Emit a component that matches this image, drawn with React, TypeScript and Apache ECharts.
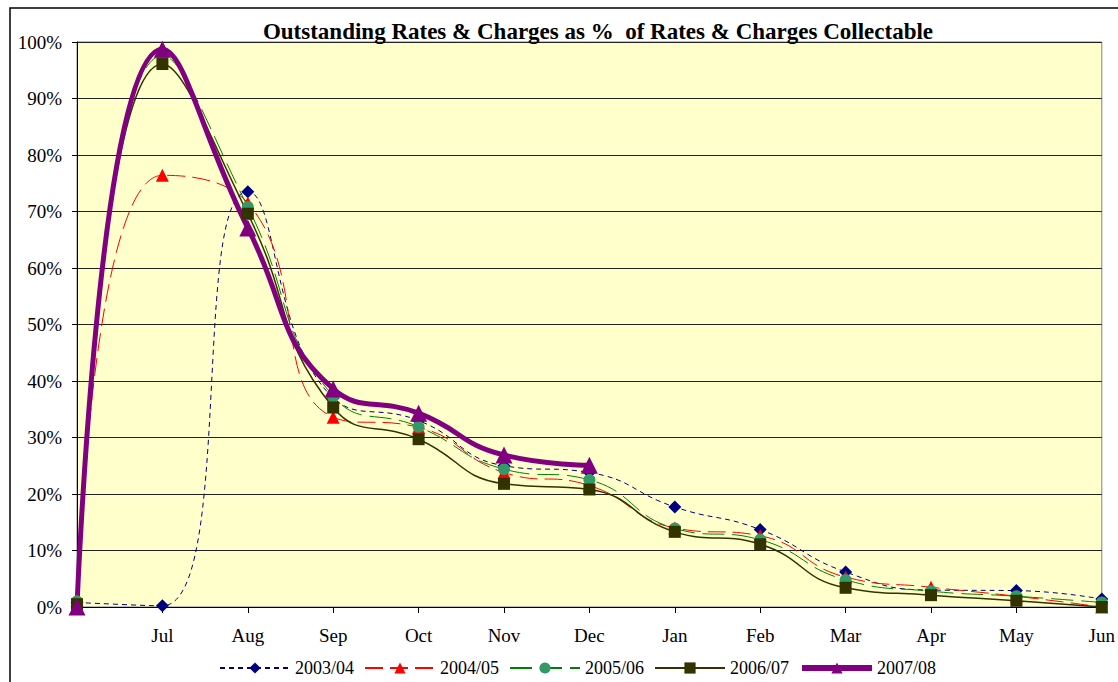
import React, { useEffect, useRef } from "react";
import * as echarts from "echarts";

const categories = ["", "Jul", "Aug", "Sep", "Oct", "Nov", "Dec", "Jan", "Feb", "Mar", "Apr", "May", "Jun"];
const yTicks = [0, 10, 20, 30, 40, 50, 60, 70, 80, 90, 100];
const title = "Outstanding Rates & Charges as %  of Rates & Charges Collectable";
const seriesNames = ["2003/04", "2004/05", "2005/06", "2006/07", "2007/08"];

const s0304 = [0.8, 0.2, 73.5, 37.0, 33.0, 25.0, 23.8, 17.7, 13.7, 6.2, 3.0, 2.9, 1.4];
const s0405 = [1.2, 76.4, 71.5, 33.6, 31.8, 23.8, 21.5, 14.0, 12.6, 5.3, 3.5, 1.9, 0.0];
const s0506 = [1.0, 97.6, 70.8, 37.3, 31.9, 24.4, 22.5, 13.9, 11.9, 4.8, 2.8, 1.9, 0.8];
const s0607 = [0.5, 96.1, 69.6, 35.3, 29.7, 21.8, 20.8, 13.3, 11.1, 3.4, 2.1, 1.1, 0.0];
const s0708 = [0.0, 98.7, 67.1, 38.6, 34.3, 26.9, 25.1, null, null, null, null, null, null];

const FONT = "'Liberation Serif', 'Times New Roman', serif";

export default function App() {
  const ref = useRef<HTMLDivElement>(null);
  useEffect(() => {
    document.body.style.margin = "0";
    const chart = echarts.init(ref.current!, null, { renderer: "svg" });
    const mk = (name: string, data: (number | null)[], color: string, lineColor: string, symbol: string, size: number, width: number, type: any) => ({
      name,
      type: "line",
      data,
      smooth: 0.5,
      clip: false,
      symbol,
      symbolSize: size,
      showAllSymbol: true,
      itemStyle: { color, borderWidth: 0 },
      lineStyle: { color: lineColor, width, type },
      emphasis: { disabled: true },
    });
    chart.setOption({
      animation: false,
      textStyle: { fontFamily: FONT },
      title: {
        text: title,
        left: 593,
        textAlign: "center",
        top: 15,
        textStyle: { fontFamily: FONT, fontSize: 23, fontWeight: "bold", color: "#000" },
      },
      graphic: [
        {
          type: "rect",
          shape: { x: 10, y: 8, width: 1200, height: 720 },
          style: { fill: "none", stroke: "#000", lineWidth: 1.5 },
          z: -10,
        },
      ],
      legend: {
        left: 214,
        top: 654,
        itemWidth: 70,
        itemHeight: 14,
        itemGap: 10,
        textStyle: { fontFamily: FONT, fontSize: 18, color: "#000" },
        data: [
          { name: seriesNames[0] },
          { name: seriesNames[1] },
          { name: seriesNames[2] },
          { name: seriesNames[3], lineStyle: { width: 2 } },
          { name: seriesNames[4], lineStyle: { width: 6 } },
        ],
      },
      grid: { left: 77, right: 10, top: 42, bottom: 75, show: true, backgroundColor: "#FFFFCC", borderColor: "#808080", borderWidth: 1 },
      xAxis: {
        type: "category",
        data: categories,
        boundaryGap: false,
        axisLine: { lineStyle: { color: "#000", width: 1 } },
        axisTick: { show: true, length: 6, lineStyle: { color: "#000" } },
        axisLabel: { fontFamily: FONT, fontSize: 19, color: "#000", margin: 19 },
        splitLine: { show: false },
      },
      yAxis: {
        type: "value",
        min: 0,
        max: 100,
        interval: 10,
        axisLine: { show: true, lineStyle: { color: "#000" } },
        axisTick: { show: true, length: 5, lineStyle: { color: "#000" } },
        axisLabel: { fontFamily: FONT, fontSize: 19, color: "#000", margin: 15, formatter: (v: number) => (yTicks.includes(v) ? v + "%" : "") },
        splitLine: { lineStyle: { color: "#222", width: 1 } },
      },
      series: [
        mk(seriesNames[0], s0304, "#000080", "#000080", "diamond", 13, 1, [5, 4]),
        mk(seriesNames[1], s0405, "#FF0000", "#FF0000", "triangle", 13, 1, [18, 7]),
        mk(seriesNames[2], s0506, "#339966", "#008000", "circle", 12, 1, [22, 8]),
        mk(seriesNames[3], s0607, "#333300", "#333300", "rect", 12, 1.5, "solid"),
        mk(seriesNames[4], s0708, "#800080", "#800080", "triangle", 17, 5, "solid"),
      ],
    });
    return () => chart.dispose();
  }, []);
  return <div ref={ref} style={{ width: 1118, height: 682 }} />;
}
